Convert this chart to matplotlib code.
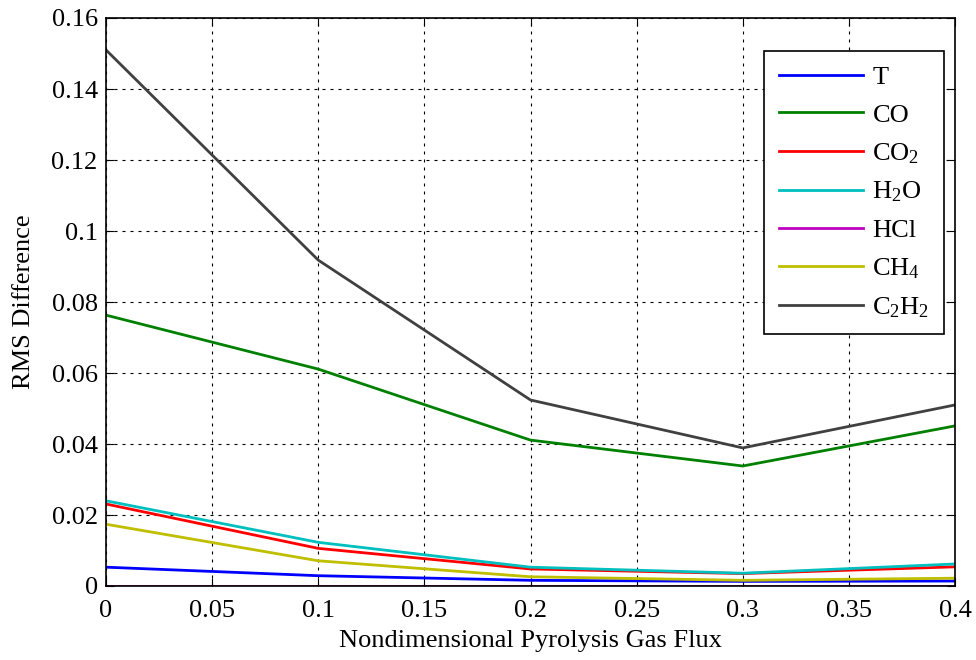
import numpy as np
import matplotlib
matplotlib.use('Agg')
import matplotlib.pyplot as plt

plt.rcParams['font.family'] = ['Liberation Serif', 'DejaVu Serif']
plt.rcParams['mathtext.fontset'] = 'custom'
plt.rcParams['mathtext.rm'] = 'Liberation Serif'
plt.rcParams['mathtext.default'] = 'regular'

# data
flux = [0.0, 0.1, 0.2, 0.3, 0.4]
rms_T = [0.0053, 0.0029, 0.0016, 0.0013, 0.0014]
rms_CO = [0.0763, 0.0611, 0.0411, 0.0338, 0.0451]
rms_CO2 = [0.0231, 0.0106, 0.0048, 0.0035, 0.0054]
rms_H2O = [0.0240, 0.0123, 0.0053, 0.0036, 0.0062]
rms_HCl = [0.0001, 0.0001, 0.0001, 0.0001, 0.0001]
rms_CH4 = [0.0174, 0.0071, 0.0026, 0.0016, 0.0022]
rms_C2H2 = [0.1510, 0.0918, 0.0524, 0.0389, 0.0510]

labels = ['T', 'CO', r'CO$_2$', r'H$_2$O', 'HCl', r'CH$_4$', r'C$_2$H$_2$']
colors = ['#0000ff', '#008000', '#ff0000', '#00bfbf', '#bf00bf', '#bfbf00', '#404040']
series = [rms_T, rms_CO, rms_CO2, rms_H2O, rms_HCl, rms_CH4, rms_C2H2]

fs = 19

fig = plt.figure(figsize=(9.76, 6.6), dpi=100)
ax = fig.add_axes([106/976, 1 - 586/660, 849/976, 568/660])

for s, lab, c in zip(series, labels, colors):
    ax.plot(flux, s, color=c, lw=2, label=lab)

ax.set_xlim(0, 0.4)
ax.set_ylim(0, 0.16)
ax.set_xticks(np.arange(0, 0.401, 0.05))
ax.set_yticks(np.arange(0, 0.161, 0.02))
ax.set_xticklabels(['0', '0.05', '0.1', '0.15', '0.2', '0.25', '0.3', '0.35', '0.4'])
ax.set_yticklabels(['0', '0.02', '0.04', '0.06', '0.08', '0.1', '0.12', '0.14', '0.16'])
ax.tick_params(direction='in', top=True, right=True, labelsize=fs, length=6)
ax.tick_params(axis='x', pad=10)
ax.tick_params(axis='y', pad=6)
ax.grid(True, color='black', linestyle=(0, (2.7, 4.5)), linewidth=0.8)
for sp in ax.spines.values():
    sp.set_linewidth(1.2)

ax.set_xlabel('Nondimensional Pyrolysis Gas Flux', fontsize=fs, labelpad=6)
ax.set_ylabel('RMS Difference', fontsize=fs, labelpad=12)

leg = ax.legend(loc='upper right', bbox_to_anchor=(0.987, 0.942), fontsize=fs,
                handlelength=3.2, handletextpad=0.35, labelspacing=0.54,
                fancybox=False, framealpha=1, edgecolor='black',
                borderpad=0.55, borderaxespad=0)
leg.get_frame().set_linewidth(1.2)

fig.savefig('out.png', dpi=100)
